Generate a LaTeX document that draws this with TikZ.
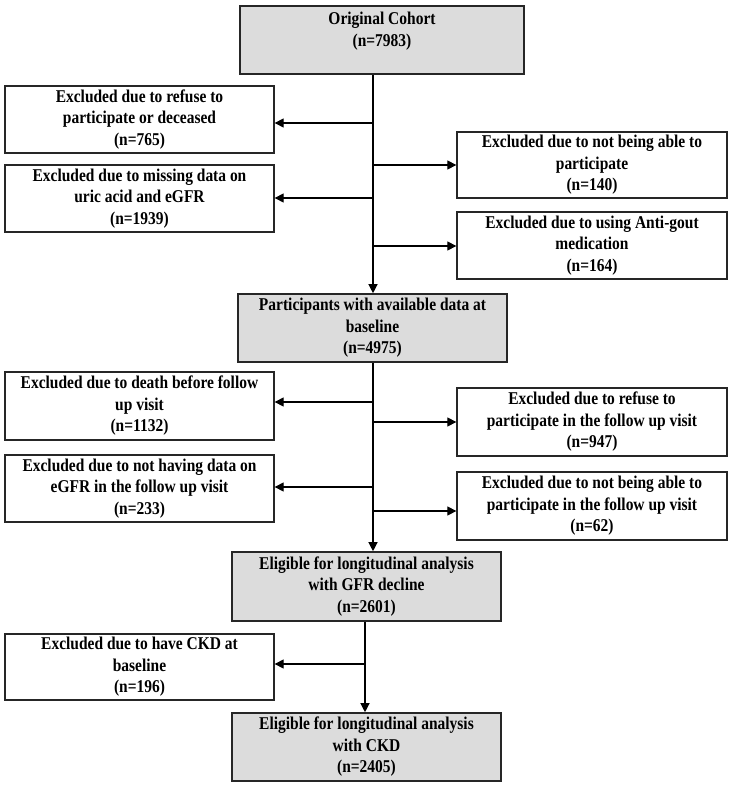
\documentclass[tikz,border=0pt]{standalone}
\usepackage{fontspec}
\setmainfont{Liberation Serif}[FakeStretch=0.86]
\usetikzlibrary{arrows.meta,positioning,calc}
\definecolor{boxgrey}{RGB}{220,220,220}

\begin{document}
\begin{tikzpicture}[x=1pt,y=-1pt,
  every node/.style={font=\bfseries\fontsize{18}{21.5}\selectfont},
  exclbox/.style={draw=black!85,line width=1.3pt,fill=white,align=center,
    minimum width=269pt,minimum height=67pt,inner sep=0pt},
  mainbox/.style={exclbox,fill=boxgrey,line width=1.6pt},
  flow/.style={draw=black,line width=1.2pt,-{Triangle[length=9pt,width=9pt]}}]
\useasboundingbox (0,0) rectangle (732,786);

% main boxes
\node[mainbox,minimum width=284pt,minimum height=68pt] (orig) at (382,40) {Original Cohort\\(n=7983)\\\mbox{}};
\node[mainbox,minimum height=68pt] (base) at (372.5,328) {Participants with available data at\\baseline\\(n=4975)};
\node[mainbox,minimum height=69pt] (gfr) at (366.5,586.5) {Eligible for longitudinal analysis\\with GFR decline\\(n=2601)};
\node[mainbox,minimum height=68pt] (ckd) at (366.5,747) {Eligible for longitudinal analysis\\with CKD\\(n=2405)};

% excluded, left side
\node[exclbox] (refuse) at (139.5,119.5) {Excluded due to refuse to\\participate or deceased\\(n=765)};
\node[exclbox] (missing) at (139.5,198.5) {Excluded due to missing data on\\uric acid and eGFR\\(n=1939)};
\node[exclbox,minimum height=68pt] (death) at (139.5,406) {Excluded due to death before follow\\up visit\\(n=1132)};
\node[exclbox] (nodata) at (139.5,488.5) {Excluded due to not having data on\\eGFR in the follow up visit\\(n=233)};
\node[exclbox,minimum height=66pt] (hasckd) at (139.5,667) {Excluded due to have CKD at\\baseline\\(n=196)};

% excluded, right side
\node[exclbox,minimum width=270pt,minimum height=66pt] (notable) at (592,165) {Excluded due to not being able to\\participate\\(n=140)};
\node[exclbox,minimum width=270pt] (gout) at (592,245.5) {Excluded due to using Anti-gout\\medication\\(n=164)};
\node[exclbox,minimum width=270pt,minimum height=68pt] (refusefu) at (592,422) {Excluded due to refuse to\\participate in the follow up visit\\(n=947)};
\node[exclbox,minimum width=270pt,minimum height=68pt] (notablefu) at (592,506) {Excluded due to not being able to\\participate in the follow up visit\\(n=62)};

% branch points on the trunk
\coordinate (b1) at (373,123);
\coordinate (b2) at (373,165);
\coordinate (b3) at (373,198);
\coordinate (b4) at (373,246);
\coordinate (b5) at (373,402);
\coordinate (b6) at (373,422);
\coordinate (b7) at (373,487);
\coordinate (b8) at (373,511);
\coordinate (b9) at (365,664);

% trunk
\draw[flow] (orig.south -| b1) -- (base.north -| b1);
\draw[flow] (base.south -| b5) -- (gfr.north -| b5);
\draw[flow] (gfr.south -| b9) -- (ckd.north -| b9);

% branches
\draw[flow] (b1) -- (b1 -| refuse.east);
\draw[flow] (b2) -- (b2 -| notable.west);
\draw[flow] (b3) -- (b3 -| missing.east);
\draw[flow] (b4) -- (b4 -| gout.west);
\draw[flow] (b5) -- (b5 -| death.east);
\draw[flow] (b6) -- (b6 -| refusefu.west);
\draw[flow] (b7) -- (b7 -| nodata.east);
\draw[flow] (b8) -- (b8 -| notablefu.west);
\draw[flow] (b9) -- (b9 -| hasckd.east);
\end{tikzpicture}
\end{document}
